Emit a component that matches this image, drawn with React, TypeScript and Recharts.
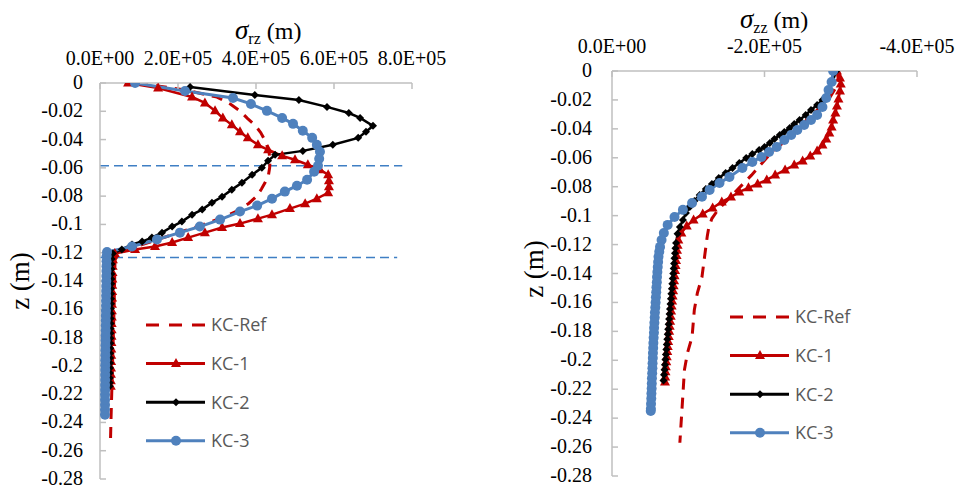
import { LineChart, Line, XAxis, YAxis, ReferenceLine, Legend } from "recharts"

const RED = "#c00000"
const BLACK = "#000000"
const BLUE = "#4f81bd"
const AXIS = "#bfbfbf"
const SERIF = "Liberation Serif, Tinos, DejaVu Serif, serif"

// [stress, z] pairs
const rzRef = [
  [95000, 0], [220000, -0.005], [300000, -0.01], [335000, -0.015], [360000, -0.02],
  [378000, -0.025], [398000, -0.03], [412000, -0.035], [422000, -0.04], [429000, -0.045],
  [434000, -0.05], [436000, -0.055], [435000, -0.06], [432000, -0.065], [424000, -0.07],
  [414000, -0.075], [402000, -0.08], [382000, -0.085], [355000, -0.09], [315000, -0.095],
  [265000, -0.1], [210000, -0.105], [155000, -0.11], [100000, -0.115], [50000, -0.12],
  [38500, -0.125], [37500, -0.14], [36000, -0.16], [34000, -0.18], [32000, -0.2],
  [30000, -0.22], [28000, -0.24], [27000, -0.252],
]
const rzKC1 = [
  [72000, 0], [149000, -0.0035], [236000, -0.0099], [269000, -0.0141], [295000, -0.0197],
  [315000, -0.0247], [338000, -0.0296], [359000, -0.0345], [379000, -0.0388], [405000, -0.0437],
  [431000, -0.0472], [467000, -0.0515], [500000, -0.0543], [533000, -0.0578], [564000, -0.0613],
  [585000, -0.0649], [587000, -0.0691], [587000, -0.0733], [585000, -0.0776], [556000, -0.0818],
  [526000, -0.0853], [487000, -0.0888], [441000, -0.0931], [405000, -0.0959], [359000, -0.0994],
  [313000, -0.1022], [269000, -0.1058], [226000, -0.1093], [185000, -0.1128], [141000, -0.1156],
  [90000, -0.1177], [38000, -0.1206], [33000, -0.125], [32500, -0.1295], [32000, -0.134],
  [31800, -0.1385], [31500, -0.143], [31200, -0.1475], [31000, -0.152], [30700, -0.1565],
  [30500, -0.161], [30200, -0.1655], [30000, -0.17], [29800, -0.1745], [29500, -0.179],
  [29300, -0.1835], [29000, -0.188], [28800, -0.1925], [28500, -0.197], [28300, -0.2015],
  [28000, -0.206], [27800, -0.2105], [27600, -0.2145],
]
const rzKC2 = [
  [231000, -0.0028], [397000, -0.0085], [510000, -0.012], [582000, -0.0169], [638000, -0.0212],
  [667000, -0.0247], [700000, -0.0303], [682000, -0.0345], [662000, -0.0388], [597000, -0.0437],
  [520000, -0.048], [449000, -0.0508], [431000, -0.055], [415000, -0.0599], [390000, -0.0649],
  [364000, -0.0705], [338000, -0.0754], [313000, -0.0804], [287000, -0.0846], [262000, -0.0895],
  [236000, -0.0931], [210000, -0.098], [185000, -0.1015], [159000, -0.1058], [133000, -0.1093],
  [108000, -0.1121], [82000, -0.1142], [56000, -0.1177], [33000, -0.1206], [30000, -0.1245],
  [29800, -0.128], [29600, -0.1315], [29400, -0.135], [29200, -0.1385], [29000, -0.142],
  [28800, -0.1455], [28600, -0.149], [28400, -0.1525], [28200, -0.156], [28000, -0.1595],
  [27800, -0.163], [27600, -0.1665], [27400, -0.17], [27200, -0.1735], [27000, -0.177],
  [26800, -0.1805], [26600, -0.184], [26400, -0.1875], [26200, -0.191], [26000, -0.1945],
  [25800, -0.198], [25600, -0.2015], [25400, -0.205], [25200, -0.2085], [25000, -0.212],
  [24800, -0.2145],
]
const rzKC3 = [
  [90000, 0], [218000, -0.0056], [341000, -0.0106], [387000, -0.0148], [428000, -0.0197],
  [467000, -0.0247], [495000, -0.0289], [520000, -0.0338], [544000, -0.0388], [556000, -0.0437],
  [564000, -0.0486], [562000, -0.0536], [559000, -0.0585], [549000, -0.0627], [531000, -0.0684],
  [505000, -0.0726], [474000, -0.0768], [441000, -0.0818], [403000, -0.0867], [359000, -0.0909],
  [308000, -0.0966], [256000, -0.1015], [205000, -0.1058], [146000, -0.1107], [82000, -0.1156],
  [18000, -0.1195], [17000, -0.1225], [16800, -0.126], [16700, -0.1295], [16500, -0.133],
  [16400, -0.1365], [16200, -0.14], [16000, -0.1435], [15900, -0.147], [15700, -0.1505],
  [15500, -0.154], [15400, -0.1575], [15200, -0.161], [15000, -0.1645], [14900, -0.168],
  [14700, -0.1715], [14600, -0.175], [14400, -0.1785], [14300, -0.182], [14100, -0.1855],
  [14000, -0.189], [13900, -0.1925], [13700, -0.196], [13600, -0.1995], [13500, -0.203],
  [13400, -0.2065], [13300, -0.21], [13200, -0.2135], [13100, -0.217], [13000, -0.2205],
  [12900, -0.224], [12900, -0.2275], [12800, -0.231], [12800, -0.2345],
]

const zzRef = [
  [-295000, 0], [-297000, -0.006], [-293000, -0.012], [-286000, -0.018], [-275000, -0.024],
  [-263000, -0.03], [-251000, -0.036], [-240000, -0.042], [-228000, -0.048], [-214000, -0.054],
  [-203000, -0.06], [-193000, -0.066], [-183000, -0.072], [-172000, -0.078], [-161000, -0.084],
  [-150000, -0.09], [-139000, -0.096], [-131000, -0.102], [-127000, -0.108], [-125000, -0.114],
  [-123000, -0.122], [-121000, -0.13], [-118000, -0.1424], [-112000, -0.1534], [-108000, -0.165],
  [-105000, -0.1838], [-99000, -0.1949], [-95000, -0.2066], [-92000, -0.232], [-89000, -0.257],
]
const zzKC1 = [
  [-295000, 0], [-299000, -0.0048], [-300000, -0.009], [-299000, -0.0138], [-297000, -0.0193],
  [-295000, -0.0242], [-293000, -0.029], [-290000, -0.0339], [-288000, -0.0387], [-285000, -0.0428],
  [-281000, -0.047], [-276000, -0.0511], [-269000, -0.0553], [-260000, -0.0587], [-250000, -0.0622],
  [-239000, -0.065], [-227000, -0.0684], [-214000, -0.0719], [-203000, -0.0753], [-191000, -0.0781],
  [-179000, -0.0808], [-167000, -0.0836], [-156000, -0.0871], [-144000, -0.0905], [-132000, -0.0947],
  [-119000, -0.0988], [-107000, -0.103], [-98000, -0.1071], [-91000, -0.112], [-87000, -0.1168],
  [-86000, -0.1205], [-85300, -0.124], [-84700, -0.1275], [-84000, -0.131], [-83400, -0.1345],
  [-82800, -0.138], [-82100, -0.1415], [-81500, -0.145], [-80800, -0.1485], [-80200, -0.152],
  [-79500, -0.1555], [-78900, -0.159], [-78200, -0.1625], [-77600, -0.166], [-77000, -0.1695],
  [-76300, -0.173], [-75700, -0.1765], [-75000, -0.18], [-74400, -0.1835], [-73700, -0.187],
  [-73100, -0.1905], [-72500, -0.194], [-71800, -0.1975], [-71200, -0.201], [-70600, -0.2045],
  [-70200, -0.208], [-69800, -0.2115], [-69500, -0.215],
]
const zzKC2 = [
  [-294000, 0], [-289000, -0.0076], [-284000, -0.0138], [-276000, -0.02], [-269000, -0.0235],
  [-261000, -0.027], [-254000, -0.0304], [-246000, -0.0339], [-239000, -0.0366], [-233000, -0.0394],
  [-226000, -0.0421], [-220000, -0.0442], [-213000, -0.047], [-207000, -0.0498], [-200000, -0.0525],
  [-193000, -0.0546], [-184000, -0.0574], [-176000, -0.0601], [-167000, -0.0636], [-158000, -0.067],
  [-149000, -0.0705], [-140000, -0.0739], [-131000, -0.0781], [-123000, -0.0815], [-115000, -0.0857],
  [-108000, -0.0898], [-102000, -0.094], [-97000, -0.0981], [-93000, -0.103], [-89000, -0.1078],
  [-86000, -0.1126], [-84000, -0.1189], [-83200, -0.1225], [-82600, -0.126], [-82000, -0.1295],
  [-81400, -0.133], [-80900, -0.1365], [-80300, -0.14], [-79700, -0.1435], [-79100, -0.147],
  [-78500, -0.1505], [-77900, -0.154], [-77300, -0.1575], [-76700, -0.161], [-76100, -0.1645],
  [-75500, -0.168], [-74900, -0.1715], [-74300, -0.175], [-73700, -0.1785], [-73100, -0.182],
  [-72500, -0.1855], [-71900, -0.189], [-71300, -0.1925], [-70700, -0.196], [-70100, -0.1995],
  [-69500, -0.203], [-68900, -0.2065], [-68300, -0.21], [-67500, -0.214],
]
const zzKC3 = [
  [-290000, 0], [-288000, -0.0076], [-284000, -0.0131], [-281000, -0.0187], [-276000, -0.0249],
  [-269000, -0.0304], [-261000, -0.0339], [-252000, -0.0373], [-243000, -0.0408], [-235000, -0.0442],
  [-226000, -0.0477], [-216000, -0.0525], [-206000, -0.056], [-196000, -0.0594], [-184000, -0.0629],
  [-171000, -0.067], [-154000, -0.0732], [-141000, -0.0774], [-128000, -0.0822], [-118000, -0.087],
  [-105000, -0.0912], [-93000, -0.096], [-82000, -0.1009], [-73000, -0.1064], [-68000, -0.112],
  [-65000, -0.1168], [-63000, -0.1216], [-62000, -0.125], [-61000, -0.1285], [-60500, -0.132],
  [-60000, -0.1355], [-59500, -0.139], [-59000, -0.1425], [-58800, -0.146], [-58300, -0.1495],
  [-58000, -0.153], [-57600, -0.1565], [-57200, -0.16], [-56800, -0.1635], [-56300, -0.167],
  [-56000, -0.1705], [-55600, -0.174], [-55200, -0.1775], [-55000, -0.181], [-54600, -0.1845],
  [-54300, -0.188], [-54000, -0.1915], [-53700, -0.195], [-53500, -0.1985], [-53200, -0.202],
  [-53000, -0.2055], [-52700, -0.209], [-52400, -0.2125], [-52200, -0.216], [-52000, -0.2195],
  [-51700, -0.223], [-51500, -0.2265], [-51200, -0.23], [-51000, -0.2335], [-50800, -0.235],
]

const depthTicks = [0, -0.02, -0.04, -0.06, -0.08, -0.1, -0.12, -0.14, -0.16, -0.18, -0.2, -0.22, -0.24, -0.26, -0.28]
const rzTicks = [0, 200000, 400000, 600000, 800000]
const zzTicks = [0, -200000, -400000]
const seriesNames = ["KC-Ref", "KC-1", "KC-2", "KC-3"]
const layerDepths = [-0.0585, -0.1234]
const layerEnds = [775000, 762000]

const toPoints = (arr: number[][]) => arr.map(([s, z]) => ({ s, z }))

function sci(v: number) {
  if (v === 0) return "0.0E+00"
  const e = Math.floor(Math.log10(Math.abs(v)) + 1e-9)
  const m = v / Math.pow(10, e)
  return `${m.toFixed(1)}E${e >= 0 ? "+" : "-"}${String(Math.abs(e)).padStart(2, "0")}`
}
const depthLabel = (v: number) => (v === 0 ? "0" : String(parseFloat(v.toFixed(2))))

// tick text drawn by hand so the serif face and size stick
const serifTick = (anchor: "middle" | "end", fmt: (v: number) => string) => (p: any) => (
  <text
    key={p.index}
    x={p.x}
    y={p.y}
    dy={anchor === "end" ? 6 : 0}
    textAnchor={anchor}
    fontSize={20}
    fontFamily={SERIF}
    fill="#000"
  >
    {fmt(p.payload.value)}
  </text>
)

const triangle = (cx: number, cy: number, k?: any) => (
  <path key={k} d={`M${cx},${cy - 5.5}L${cx + 5},${cy + 3.5}L${cx - 5},${cy + 3.5}Z`} fill={RED} />
)
const diamond = (cx: number, cy: number, k?: any) => (
  <path key={k} d={`M${cx},${cy - 4}L${cx + 4},${cy}L${cx},${cy + 4}L${cx - 4},${cy}Z`} fill={BLACK} />
)
const circle = (cx: number, cy: number, k?: any) => <circle key={k} cx={cx} cy={cy} r={5} fill={BLUE} />

const dotFor = (draw: typeof triangle) => (p: any) => {
  if (p.cx == null || p.cy == null) return <g key={p.index} />
  return draw(p.cx, p.cy, p.index)
}

function LegendBox() {
  return (
    <svg width={170} height={150} style={{ overflow: "visible" }}>
      {seriesNames.map((name, i) => {
        const y = 10 + i * 38.6
        const color = i === 0 ? RED : i === 1 ? RED : i === 2 ? BLACK : BLUE
        return (
          <g key={name}>
            <line x1={0} x2={59} y1={y} y2={y} stroke={color} strokeWidth={3}
              strokeDasharray={i === 0 ? "13 10" : undefined} />
            {i === 1 && triangle(30, y)}
            {i === 2 && diamond(30, y)}
            {i === 3 && circle(30, y)}
            <text x={65} y={y} dy="0.35em" fontSize={18} fill="#595959"
              style={{ fontFamily: "Open Sans, sans-serif" }}>
              {name}
            </text>
          </g>
        )
      })}
    </svg>
  )
}

interface PanelProps {
  width: number
  margin: { top: number; right: number; bottom: number; left: number }
  series: number[][][]
  ticks: number[]
  domain: [number, number]
  reversed?: boolean
  yTickMargin: number
  legendPos: { left: number; top: number }
  layers?: boolean
}

function Panel({ width, margin, series, ticks, domain, reversed, yTickMargin, legendPos, layers }: PanelProps) {
  const [ref, kc1, kc2, kc3] = series
  return (
    <LineChart width={width} height={489} margin={margin} style={{ overflow: "visible" }}>
      <XAxis
        type="number"
        dataKey="s"
        orientation="top"
        domain={domain}
        ticks={ticks}
        reversed={reversed}
        interval={0}
        allowDataOverflow
        height={30}
        tick={serifTick("middle", sci)}
        axisLine={{ stroke: AXIS, strokeWidth: 1.5 }}
        tickLine={{ stroke: AXIS, strokeWidth: 1.5 }}
        tickSize={-6}
        tickMargin={24}
      />
      <YAxis
        type="number"
        domain={[-0.28, 0]}
        ticks={depthTicks}
        interval={0}
        allowDataOverflow
        width={60}
        tick={serifTick("end", depthLabel)}
        axisLine={{ stroke: AXIS, strokeWidth: 1.5 }}
        tickLine={{ stroke: AXIS, strokeWidth: 1.5 }}
        tickSize={-6}
        tickMargin={yTickMargin}
      />
      {layers &&
        layerDepths.map((d, i) => (
          <ReferenceLine
            key={d}
            segment={[{ x: 0, y: d }, { x: layerEnds[i], y: d }]}
            stroke="#3f7fc4"
            strokeWidth={1.3}
            strokeDasharray="9 5"
          />
        ))}
      <Line data={toPoints(ref)} dataKey="z" type="linear" stroke={RED} strokeWidth={3}
        strokeDasharray="11 8" dot={false} activeDot={false} isAnimationActive={false} />
      <Line data={toPoints(kc1)} dataKey="z" type="linear" stroke={RED} strokeWidth={2.5}
        dot={dotFor(triangle)} activeDot={false} isAnimationActive={false} />
      <Line data={toPoints(kc2)} dataKey="z" type="linear" stroke={BLACK} strokeWidth={2.5}
        dot={dotFor(diamond)} activeDot={false} isAnimationActive={false} />
      <Line data={toPoints(kc3)} dataKey="z" type="linear" stroke={BLUE} strokeWidth={3}
        dot={dotFor(circle)} activeDot={false} isAnimationActive={false} />
      <Legend
        layout="vertical"
        align="center"
        verticalAlign="middle"
        content={() => <LegendBox />}
        wrapperStyle={{ left: legendPos.left, top: legendPos.top, width: 170, height: 150 }}
      />
    </LineChart>
  )
}

export default function App() {
  return (
    <div style={{ position: "fixed", left: 0, top: 0, width: 961, height: 489, background: "#fff" }}>
      <div style={{ position: "absolute", left: 0, top: 0 }}>
        <Panel
          width={480}
          margin={{ top: 53, right: 68, bottom: 10, left: 40 }}
          series={[rzRef, rzKC1, rzKC2, rzKC3]}
          ticks={rzTicks}
          domain={[0, 800000]}
          yTickMargin={23}
          legendPos={{ left: 146, top: 315 }}
          layers
        />
      </div>
      <div style={{ position: "absolute", left: 480, top: 0 }}>
        <Panel
          width={481}
          margin={{ top: 41, right: 44, bottom: 13, left: 72 }}
          series={[zzRef, zzKC1, zzKC2, zzKC3]}
          ticks={zzTicks}
          domain={[-400000, 0]}
          reversed
          yTickMargin={26}
          legendPos={{ left: 250, top: 307 }}
        />
      </div>
      <svg width={961} height={489} style={{ position: "absolute", left: 0, top: 0, pointerEvents: "none" }}>
        <text x={235} y={39} fontSize={24} fill="#000" fontFamily={SERIF}>
          <tspan fontStyle="italic" fontSize={27}>σ</tspan>
          <tspan fontSize={16} dy={5}>rz</tspan>
          <tspan dy={-5}> (m)</tspan>
        </text>
        <text x={740} y={28} fontSize={24} fill="#000" fontFamily={SERIF}>
          <tspan fontStyle="italic" fontSize={27}>σ</tspan>
          <tspan fontSize={16} dy={5}>zz</tspan>
          <tspan dy={-5}> (m)</tspan>
        </text>
        <text transform="translate(29,281) rotate(-90)" textAnchor="middle" fontSize={27} fill="#000"
          fontFamily={SERIF}>
          z (m)
        </text>
        <text transform="translate(543,269) rotate(-90)" textAnchor="middle" fontSize={27} fill="#000"
          fontFamily={SERIF}>
          z (m)
        </text>
      </svg>
    </div>
  )
}
